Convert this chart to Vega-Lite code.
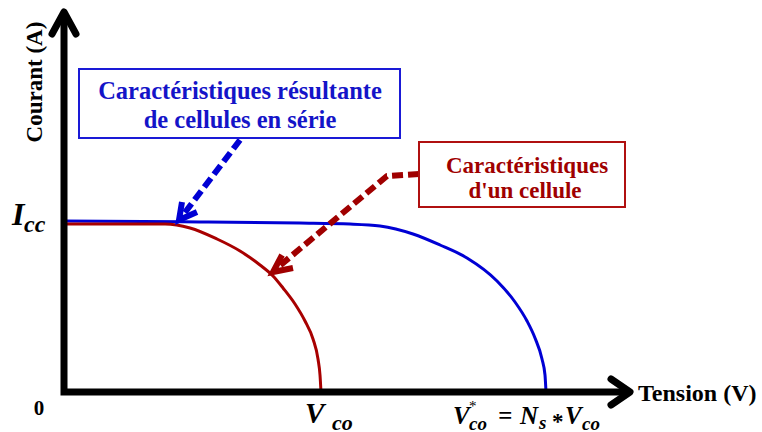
{
  "$schema": "https://vega.github.io/schema/vega-lite/v6.json",
  "width": 762,
  "height": 432,
  "padding": 0,
  "autosize": {"type": "none"},
  "config": {"view": {"stroke": null}},
  "datasets": {
    "curves": [
      {"s": "serie", "i": 0, "x": 0, "y": 171},
      {"s": "serie", "i": 1, "x": 136, "y": 170},
      {"s": "serie", "i": 2, "x": 236, "y": 169},
      {"s": "serie", "i": 3, "x": 286, "y": 168},
      {"s": "serie", "i": 4, "x": 316, "y": 166},
      {"s": "serie", "i": 5, "x": 349, "y": 158},
      {"s": "serie", "i": 6, "x": 376, "y": 147},
      {"s": "serie", "i": 7, "x": 403, "y": 134},
      {"s": "serie", "i": 8, "x": 433, "y": 111},
      {"s": "serie", "i": 9, "x": 451, "y": 90},
      {"s": "serie", "i": 10, "x": 463, "y": 71},
      {"s": "serie", "i": 11, "x": 471, "y": 54},
      {"s": "serie", "i": 12, "x": 478, "y": 33},
      {"s": "serie", "i": 13, "x": 481, "y": 17},
      {"s": "serie", "i": 14, "x": 482, "y": 0},
      {"s": "cellule", "i": 0, "x": 0, "y": 168},
      {"s": "cellule", "i": 1, "x": 101, "y": 168},
      {"s": "cellule", "i": 2, "x": 126, "y": 164},
      {"s": "cellule", "i": 3, "x": 153, "y": 153},
      {"s": "cellule", "i": 4, "x": 176, "y": 141},
      {"s": "cellule", "i": 5, "x": 196, "y": 127},
      {"s": "cellule", "i": 6, "x": 209, "y": 116},
      {"s": "cellule", "i": 7, "x": 219, "y": 104},
      {"s": "cellule", "i": 8, "x": 231, "y": 88},
      {"s": "cellule", "i": 9, "x": 241, "y": 71},
      {"s": "cellule", "i": 10, "x": 249, "y": 53},
      {"s": "cellule", "i": 11, "x": 254, "y": 33},
      {"s": "cellule", "i": 12, "x": 256, "y": 17},
      {"s": "cellule", "i": 13, "x": 257, "y": 0}
    ],
    "blueDash": [
      {"i": 0, "x": 176, "y": 252},
      {"i": 1, "x": 119, "y": 177}
    ],
    "blueHead": [
      {"i": 0, "x": 118, "y": 190},
      {"i": 1, "x": 115, "y": 172},
      {"i": 2, "x": 133, "y": 180}
    ],
    "redDash": [
      {"i": 0, "x": 355, "y": 218},
      {"i": 1, "x": 323, "y": 216},
      {"i": 2, "x": 213, "y": 124}
    ],
    "redHead": [
      {"i": 0, "x": 218, "y": 137},
      {"i": 1, "x": 209, "y": 120},
      {"i": 2, "x": 229, "y": 124}
    ],
    "axes": [
      {"i": 0, "x": 0, "y": 380},
      {"i": 1, "x": 0, "y": 0},
      {"i": 2, "x": 566, "y": 0}
    ],
    "chevrons": [
      {"g": "y", "i": 0, "x": -12, "y": 358},
      {"g": "y", "i": 1, "x": 0, "y": 380},
      {"g": "y", "i": 2, "x": 12, "y": 358},
      {"g": "x", "i": 0, "x": 547, "y": 13},
      {"g": "x", "i": 1, "x": 566, "y": 0},
      {"g": "x", "i": 2, "x": 547, "y": -13}
    ],
    "blueBox": [{"x": 15, "x2": 336, "y": 323, "y2": 254}],
    "redBox": [{"x": 355, "x2": 561, "y": 250, "y2": 185}],
    "blueText": [
      {"x": 176, "y": 293, "t": "Caractéristiques  résultante"},
      {"x": 176, "y": 264, "t": "de  cellules en série"}
    ],
    "redText": [
      {"x": 463, "y": 219, "t": "Caractéristiques"},
      {"x": 461, "y": 194, "t": "d'un cellule"}
    ],
    "tension": [{"x": 574, "y": -9, "t": "Tension (V)"}],
    "courant": [{"x": -29, "y": 310, "t": "Courant (A)"}],
    "zero": [{"x": -25, "y": -17, "t": "0"}],
    "iBig": [{"x": -52, "y": 167, "t": "I"}],
    "iSub": [{"x": -40, "y": 160, "t": "cc"}],
    "vBig": [{"x": 241, "y": -31, "t": "V"}],
    "vSub": [{"x": 268, "y": -38, "t": "co"}],
    "eqMain": [
      {"x": 389, "y": -32, "t": "V"},
      {"x": 434, "y": -32, "t": "="},
      {"x": 456, "y": -32, "t": "N"},
      {"x": 501, "y": -32, "t": "V"}
    ],
    "eqSub": [
      {"x": 405, "y": -38, "t": "co"},
      {"x": 475, "y": -37, "t": "s"},
      {"x": 518, "y": -38, "t": "co"}
    ],
    "eqSup": [{"x": 405, "y": -19, "t": "*"}],
    "eqOp": [{"x": 488, "y": -37, "t": "*"}]
  },
  "encoding": {
    "x": {"field": "x", "type": "quantitative", "scale": {"domain": [-64, 698], "nice": false, "zero": false}, "axis": null},
    "y": {"field": "y", "type": "quantitative", "scale": {"domain": [-40, 392], "nice": false, "zero": false}, "axis": null}
  },
  "layer": [
    {
      "data": {"name": "curves"},
      "mark": {"type": "line", "strokeWidth": 3, "interpolate": "monotone"},
      "encoding": {
        "color": {"field": "s", "type": "nominal", "scale": {"domain": ["cellule", "serie"], "range": ["#a80000", "#0000d4"]}, "legend": null},
        "order": {"field": "i", "type": "quantitative"}
      }
    },
    {
      "data": {"name": "blueDash"},
      "mark": {"type": "line", "stroke": "#0000d4", "strokeWidth": 6, "strokeDash": [11, 5]},
      "encoding": {"order": {"field": "i", "type": "quantitative"}}
    },
    {
      "data": {"name": "blueHead"},
      "mark": {"type": "line", "stroke": "#0000d4", "strokeWidth": 6, "strokeJoin": "miter", "strokeCap": "butt"},
      "encoding": {"order": {"field": "i", "type": "quantitative"}}
    },
    {
      "data": {"name": "redDash"},
      "mark": {"type": "line", "stroke": "#a00000", "strokeWidth": 6, "strokeDash": [11, 5], "strokeJoin": "round"},
      "encoding": {"order": {"field": "i", "type": "quantitative"}}
    },
    {
      "data": {"name": "redHead"},
      "mark": {"type": "line", "stroke": "#a00000", "strokeWidth": 6, "strokeJoin": "miter", "strokeCap": "butt"},
      "encoding": {"order": {"field": "i", "type": "quantitative"}}
    },
    {
      "data": {"name": "axes"},
      "mark": {"type": "line", "stroke": "black", "strokeWidth": 7, "strokeJoin": "miter", "strokeCap": "butt"},
      "encoding": {"order": {"field": "i", "type": "quantitative"}}
    },
    {
      "data": {"name": "chevrons"},
      "mark": {"type": "line", "stroke": "black", "strokeWidth": 7, "strokeJoin": "round", "strokeCap": "round"},
      "encoding": {"detail": {"field": "g", "type": "nominal"}, "order": {"field": "i", "type": "quantitative"}}
    },
    {
      "data": {"name": "blueBox"},
      "mark": {"type": "rect", "fill": "white", "stroke": "#1a1ad6", "strokeWidth": 2},
      "encoding": {"x2": {"field": "x2"}, "y2": {"field": "y2"}}
    },
    {
      "data": {"name": "redBox"},
      "mark": {"type": "rect", "fill": "white", "stroke": "#b01010", "strokeWidth": 2},
      "encoding": {"x2": {"field": "x2"}, "y2": {"field": "y2"}}
    },
    {
      "data": {"name": "blueText"},
      "mark": {"type": "text", "font": "Liberation Serif", "fontWeight": "bold", "fontSize": 24.5, "color": "#1414c8", "align": "center", "baseline": "alphabetic"},
      "encoding": {"text": {"field": "t"}}
    },
    {
      "data": {"name": "redText"},
      "mark": {"type": "text", "font": "Liberation Serif", "fontWeight": "bold", "fontSize": 23, "color": "#a00000", "align": "center", "baseline": "alphabetic"},
      "encoding": {"text": {"field": "t"}}
    },
    {
      "data": {"name": "tension"},
      "mark": {"type": "text", "font": "Liberation Serif", "fontWeight": "bold", "fontSize": 24, "color": "black", "align": "left", "baseline": "alphabetic"},
      "encoding": {"text": {"field": "t"}}
    },
    {
      "data": {"name": "courant"},
      "mark": {"type": "text", "font": "Liberation Serif", "fontWeight": "bold", "fontSize": 23, "color": "black", "align": "center", "baseline": "middle", "angle": 270},
      "encoding": {"text": {"field": "t"}}
    },
    {
      "data": {"name": "zero"},
      "mark": {"type": "text", "font": "Liberation Serif", "fontWeight": "bold", "fontSize": 21, "color": "black", "align": "center", "baseline": "middle"},
      "encoding": {"text": {"field": "t"}}
    },
    {
      "data": {"name": "iBig"},
      "mark": {"type": "text", "font": "Liberation Serif", "fontWeight": "bold", "fontStyle": "italic", "fontSize": 32, "color": "black", "align": "left", "baseline": "alphabetic"},
      "encoding": {"text": {"field": "t"}}
    },
    {
      "data": {"name": "iSub"},
      "mark": {"type": "text", "font": "Liberation Serif", "fontWeight": "bold", "fontStyle": "italic", "fontSize": 24, "color": "black", "align": "left", "baseline": "alphabetic"},
      "encoding": {"text": {"field": "t"}}
    },
    {
      "data": {"name": "vBig"},
      "mark": {"type": "text", "font": "Liberation Serif", "fontWeight": "bold", "fontStyle": "italic", "fontSize": 29, "color": "black", "align": "left", "baseline": "alphabetic"},
      "encoding": {"text": {"field": "t"}}
    },
    {
      "data": {"name": "vSub"},
      "mark": {"type": "text", "font": "Liberation Serif", "fontWeight": "bold", "fontStyle": "italic", "fontSize": 22, "color": "black", "align": "left", "baseline": "alphabetic"},
      "encoding": {"text": {"field": "t"}}
    },
    {
      "data": {"name": "eqMain"},
      "mark": {"type": "text", "font": "Liberation Serif", "fontWeight": "bold", "fontStyle": "italic", "fontSize": 25, "color": "black", "align": "left", "baseline": "alphabetic"},
      "encoding": {"text": {"field": "t"}}
    },
    {
      "data": {"name": "eqSub"},
      "mark": {"type": "text", "font": "Liberation Serif", "fontWeight": "bold", "fontStyle": "italic", "fontSize": 19, "color": "black", "align": "left", "baseline": "alphabetic"},
      "encoding": {"text": {"field": "t"}}
    },
    {
      "data": {"name": "eqSup"},
      "mark": {"type": "text", "font": "Liberation Serif", "fontSize": 15, "color": "black", "align": "left", "baseline": "alphabetic"},
      "encoding": {"text": {"field": "t"}}
    },
    {
      "data": {"name": "eqOp"},
      "mark": {"type": "text", "font": "Liberation Serif", "fontWeight": "bold", "fontSize": 23, "color": "black", "align": "left", "baseline": "alphabetic"},
      "encoding": {"text": {"field": "t"}}
    }
  ]
}
